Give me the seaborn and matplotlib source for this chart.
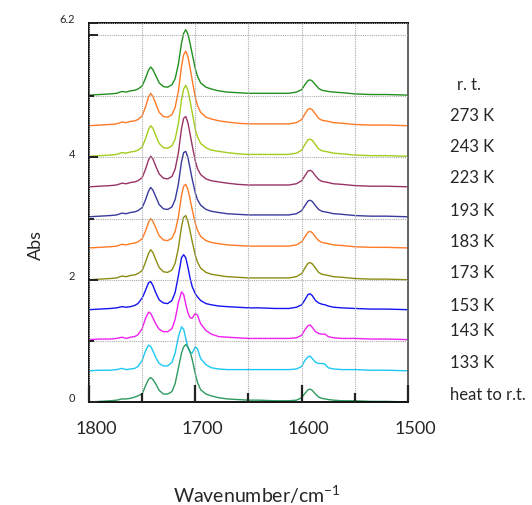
import numpy as np
import pandas as pd
import matplotlib
matplotlib.use("Agg")
import matplotlib.pyplot as plt
import matplotlib.transforms as mtransforms
import seaborn as sns

# ---------------- data ----------------
wavenumber = [1800, 1790, 1780, 1774, 1769, 1765, 1761, 1757, 1754, 1750,
              1747, 1744, 1742, 1740, 1737, 1734, 1730, 1726, 1722, 1719,
              1716, 1713, 1711, 1709, 1707, 1705, 1703, 1700, 1698, 1695,
              1690, 1685, 1678, 1670, 1660, 1650, 1640, 1625, 1612, 1605,
              1600, 1597, 1594, 1592, 1590, 1587, 1584, 1581, 1578, 1575,
              1570, 1562, 1550, 1535, 1520, 1500]

labels = ["r. t.", "273 K", "243 K", "223 K", "193 K", "183 K",
          "173 K", "153 K", "143 K", "133 K", "heat to r.t."]

offsets = [5.02, 4.52, 4.02, 3.52, 3.03, 2.52, 2.00, 1.51, 1.02, 0.51, 0.00]

abs_rt = [0.00, 0.01, 0.02, 0.03, 0.06, 0.05, 0.07, 0.08, 0.10, 0.15,
          0.27, 0.41, 0.46, 0.42, 0.31, 0.20, 0.14, 0.13, 0.17, 0.27,
          0.50, 0.85, 1.01, 1.07, 1.00, 0.85, 0.68, 0.43, 0.31, 0.20,
          0.13, 0.10, 0.07, 0.05, 0.04, 0.03, 0.03, 0.03, 0.03, 0.05,
          0.09, 0.17, 0.24, 0.25, 0.23, 0.17, 0.11, 0.08, 0.07, 0.06,
          0.05, 0.04, 0.02, 0.01, 0.01, 0.00]
abs_273 = [0.00, 0.01, 0.02, 0.03, 0.06, 0.05, 0.07, 0.08, 0.10, 0.16,
           0.30, 0.47, 0.53, 0.48, 0.35, 0.22, 0.15, 0.14, 0.18, 0.30,
           0.56, 0.97, 1.16, 1.22, 1.13, 0.95, 0.75, 0.46, 0.33, 0.22,
           0.14, 0.11, 0.08, 0.06, 0.04, 0.03, 0.03, 0.03, 0.03, 0.05,
           0.10, 0.19, 0.27, 0.28, 0.26, 0.19, 0.12, 0.09, 0.08, 0.07,
           0.05, 0.04, 0.02, 0.01, 0.01, 0.00]
abs_243 = [0.00, 0.01, 0.02, 0.03, 0.06, 0.05, 0.07, 0.08, 0.10, 0.15,
           0.28, 0.44, 0.50, 0.46, 0.33, 0.21, 0.14, 0.13, 0.17, 0.28,
           0.53, 0.92, 1.10, 1.16, 1.08, 0.91, 0.72, 0.44, 0.32, 0.21,
           0.14, 0.10, 0.08, 0.06, 0.04, 0.03, 0.03, 0.03, 0.03, 0.05,
           0.10, 0.19, 0.27, 0.28, 0.26, 0.19, 0.12, 0.09, 0.08, 0.07,
           0.05, 0.04, 0.02, 0.01, 0.01, 0.00]
abs_223 = [0.00, 0.01, 0.02, 0.03, 0.06, 0.05, 0.07, 0.08, 0.10, 0.15,
           0.28, 0.44, 0.50, 0.46, 0.33, 0.21, 0.14, 0.13, 0.17, 0.29,
           0.55, 0.95, 1.12, 1.15, 1.05, 0.87, 0.68, 0.42, 0.30, 0.20,
           0.13, 0.10, 0.08, 0.06, 0.04, 0.03, 0.03, 0.03, 0.03, 0.05,
           0.10, 0.18, 0.26, 0.27, 0.25, 0.18, 0.12, 0.09, 0.08, 0.07,
           0.05, 0.04, 0.02, 0.01, 0.01, 0.00]
abs_193 = [0.00, 0.01, 0.02, 0.03, 0.06, 0.05, 0.07, 0.08, 0.10, 0.15,
           0.27, 0.42, 0.48, 0.44, 0.32, 0.20, 0.13, 0.12, 0.16, 0.28,
           0.53, 0.90, 1.05, 1.07, 0.97, 0.80, 0.62, 0.39, 0.28, 0.19,
           0.12, 0.09, 0.07, 0.05, 0.04, 0.03, 0.03, 0.03, 0.03, 0.05,
           0.10, 0.18, 0.26, 0.27, 0.25, 0.18, 0.12, 0.09, 0.08, 0.07,
           0.05, 0.04, 0.02, 0.01, 0.01, 0.00]
abs_183 = [0.00, 0.01, 0.02, 0.03, 0.06, 0.05, 0.07, 0.08, 0.10, 0.15,
           0.27, 0.42, 0.48, 0.44, 0.32, 0.20, 0.13, 0.12, 0.16, 0.27,
           0.50, 0.86, 1.01, 1.04, 0.96, 0.80, 0.63, 0.40, 0.29, 0.19,
           0.12, 0.09, 0.07, 0.05, 0.04, 0.03, 0.03, 0.03, 0.03, 0.05,
           0.10, 0.18, 0.26, 0.27, 0.25, 0.18, 0.12, 0.09, 0.08, 0.07,
           0.05, 0.04, 0.02, 0.01, 0.01, 0.00]
abs_173 = [0.00, 0.01, 0.02, 0.03, 0.06, 0.05, 0.07, 0.08, 0.10, 0.15,
           0.28, 0.43, 0.49, 0.45, 0.32, 0.20, 0.13, 0.12, 0.16, 0.27,
           0.51, 0.87, 1.02, 1.05, 0.96, 0.80, 0.63, 0.40, 0.29, 0.19,
           0.12, 0.09, 0.07, 0.05, 0.04, 0.03, 0.03, 0.03, 0.03, 0.05,
           0.10, 0.19, 0.27, 0.28, 0.26, 0.19, 0.12, 0.09, 0.08, 0.07,
           0.05, 0.04, 0.02, 0.01, 0.01, 0.00]
abs_153 = [0.00, 0.01, 0.02, 0.03, 0.05, 0.04, 0.05, 0.07, 0.10, 0.19,
           0.31, 0.44, 0.46, 0.40, 0.27, 0.16, 0.11, 0.10, 0.15, 0.28,
           0.55, 0.85, 0.90, 0.85, 0.70, 0.52, 0.38, 0.26, 0.21, 0.15,
           0.10, 0.08, 0.06, 0.05, 0.04, 0.03, 0.03, 0.02, 0.02, 0.04,
           0.08, 0.16, 0.25, 0.26, 0.23, 0.15, 0.11, 0.09, 0.08, 0.06,
           0.04, 0.03, 0.02, 0.01, 0.01, 0.00]
abs_143 = [0.00, 0.01, 0.01, 0.02, 0.04, 0.02, 0.04, 0.05, 0.08, 0.18,
           0.34, 0.45, 0.43, 0.36, 0.25, 0.17, 0.13, 0.13, 0.18, 0.33,
           0.60, 0.78, 0.74, 0.58, 0.44, 0.36, 0.35, 0.43, 0.40, 0.26,
           0.15, 0.09, 0.05, 0.04, 0.03, 0.02, 0.02, 0.02, 0.02, 0.03,
           0.07, 0.16, 0.23, 0.24, 0.20, 0.13, 0.10, 0.09, 0.09, 0.05,
           0.03, 0.02, 0.02, 0.01, 0.01, 0.00]
abs_133 = [0.00, 0.01, 0.01, 0.02, 0.04, 0.02, 0.03, 0.04, 0.07, 0.17,
           0.32, 0.42, 0.40, 0.33, 0.21, 0.12, 0.08, 0.08, 0.14, 0.29,
           0.55, 0.72, 0.68, 0.53, 0.38, 0.30, 0.29, 0.39, 0.36, 0.20,
           0.10, 0.05, 0.03, 0.02, 0.02, 0.02, 0.02, 0.02, 0.02, 0.03,
           0.07, 0.17, 0.23, 0.24, 0.20, 0.14, 0.12, 0.12, 0.11, 0.05,
           0.03, 0.02, 0.02, 0.01, 0.01, 0.00]
abs_heat = [0.00, 0.01, 0.02, 0.03, 0.05, 0.05, 0.06, 0.08, 0.10, 0.13,
            0.26, 0.37, 0.40, 0.37, 0.29, 0.19, 0.13, 0.13, 0.17, 0.30,
            0.55, 0.80, 0.90, 0.94, 0.90, 0.83, 0.70, 0.46, 0.32, 0.20,
            0.13, 0.10, 0.07, 0.05, 0.04, 0.03, 0.03, 0.02, 0.02, 0.03,
            0.07, 0.14, 0.20, 0.21, 0.19, 0.13, 0.08, 0.06, 0.05, 0.04,
            0.03, 0.02, 0.02, 0.01, 0.01, 0.00]

colors = ["#22901f", "#ff7a26", "#a3cc1c", "#993366", "#3a3a9e", "#ff7a26",
          "#8c8c12", "#1414f0", "#f020f0", "#1ec8f2", "#2e9a60"]

x_major = [1800, 1700, 1600, 1500]
x_minor = [1750, 1650, 1550]
y_major = [0, 2, 4, 6, 6.2]
y_major_labels = ["0", "2", "4", "", "6.2"]
y_minor = [1, 3, 5]

# label positions in pixels (figure 532 x 506)
label_px = [(457, 85), (450, 116), (450, 147), (450, 178), (450, 211),
            (450, 242), (450, 273), (450, 306), (450, 331), (450, 363),
            (450, 395)]

# ---------------- build table ----------------
series = [abs_rt, abs_273, abs_243, abs_223, abs_193, abs_183,
          abs_173, abs_153, abs_143, abs_133, abs_heat]
frames = []
for lab, off, s in zip(labels, offsets, series):
    frames.append(pd.DataFrame({"wavenumber": wavenumber,
                                "absorbance": np.asarray(s) + off,
                                "sample": lab}))
df = pd.concat(frames, ignore_index=True)

# ---------------- style ----------------
sns.set_style("white")
plt.rcParams["font.family"] = ["Lato", "DejaVu Sans"]
plt.rcParams["mathtext.fontset"] = "custom"
plt.rcParams["mathtext.rm"] = "Lato"
plt.rcParams["axes.axisbelow"] = False

W, H = 532, 506
fig = plt.figure(figsize=(W / 100, H / 100), dpi=100)
ax = fig.add_axes([89 / W, 103 / H, 319 / W, 379 / H])

sns.lineplot(data=df, x="wavenumber", y="absorbance", hue="sample",
             palette=dict(zip(labels, colors)), hue_order=labels,
             sort=False, estimator=None, legend=False, lw=1.0, ax=ax)

ax.set_xlim(1800, 1500)
ax.set_ylim(0, 6.2)
ax.set_xticks(x_major)
ax.set_xticks(x_minor, minor=True)
ax.set_yticks(y_major)
ax.set_yticklabels(y_major_labels)
ax.set_yticks(y_minor, minor=True)

ax.grid(True, which="both", color="#ababab", linestyle=(0, (1, 1)), lw=0.8)
for gl in ax.get_xgridlines() + ax.get_ygridlines():
    gl.set_zorder(0.5)

ax.tick_params(axis="x", which="major", direction="in", length=12.5, width=1.6,
               labelsize=13, pad=13, bottom=True, top=False, color="#222222")
ax.tick_params(axis="x", which="minor", direction="in", length=6.5, width=1.6,
               bottom=True, top=False, color="#222222")
ax.tick_params(axis="y", which="major", direction="in", length=6.5, width=1.4,
               labelsize=8, pad=10, left=True, right=False, color="#222222")
ax.tick_params(axis="y", which="minor", direction="in", length=3.5, width=1.4,
               left=True, right=False, color="#222222")

for sp in ax.spines.values():
    sp.set_color("black")
    sp.set_linewidth(1.3)
    sp.set_visible(True)
ax.spines["right"].set_color("#555555")

dx = mtransforms.ScaledTranslation(0.07, 0, fig.dpi_scale_trans)
for t in ax.get_xticklabels():
    t.set_transform(t.get_transform() + dx)
dy = mtransforms.ScaledTranslation(0, 0.05, fig.dpi_scale_trans)
for t in ax.get_yticklabels():
    t.set_transform(t.get_transform() + dy)

ax.set_xlabel("Wavenumber/cm$^{\\mathregular{-1}}$", fontsize=14)
ax.set_ylabel("Abs", fontsize=13)
ax.xaxis.set_label_coords((257 - 89) / 319, (403 - 483) / 379)
ax.yaxis.set_label_coords((44 - 89) / 319, (403 - 245) / 379)

for lab, (px, py) in zip(labels, label_px):
    fig.text(px / W, 1 - py / H, lab, fontsize=12, ha="left", va="center")

fig.savefig("out.png", dpi=100)
